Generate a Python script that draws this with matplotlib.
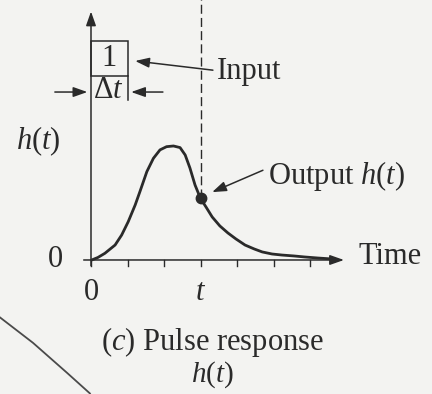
import numpy as np
import matplotlib
matplotlib.use("Agg")
import matplotlib.pyplot as plt
from matplotlib.patches import Rectangle

# pulse response h(t), time in tick units, amplitude normalised to the peak
t_vals = [0.02, 0.19, 0.38, 0.66, 0.84, 1.02, 1.21, 1.34, 1.53, 1.71, 1.89,
          2.07, 2.26, 2.44, 2.58, 2.71, 2.85, 3.0, 3.15, 3.32, 3.53, 3.75,
          3.97, 4.22, 4.47, 4.69, 4.96, 5.23, 5.56, 5.86, 6.22, 6.55]
h_vals = [0.0, 0.022, 0.058, 0.130, 0.217, 0.333, 0.478, 0.594, 0.768, 0.884,
          0.957, 0.985, 0.991, 0.977, 0.913, 0.800, 0.652, 0.535, 0.461, 0.374,
          0.296, 0.235, 0.183, 0.130, 0.096, 0.070, 0.052, 0.043, 0.035, 0.026,
          0.017, 0.01]
t_mark = 3.0
h_mark = 0.535
tick_pos = [0, 1, 2, 3, 4, 5, 6]
pulse_width = 1.0
pulse_top = 1.90
pulse_base = 1.60

# stray stroke from the neighbouring figure on the page
edge_x = [-2.49, -1.59, -0.66, -0.03]
edge_y = [-0.50, -0.72, -0.98, -1.16]

ink = "#2a2a2a"
plt.rcParams["font.family"] = "Liberation Serif"
plt.rcParams["mathtext.fontset"] = "custom"
plt.rcParams["mathtext.rm"] = "Liberation Serif"
plt.rcParams["mathtext.it"] = "Liberation Serif:italic"

fig = plt.figure(figsize=(4.32, 3.94), dpi=100)
fig.patch.set_facecolor("#f3f3f1")
ax = fig.add_axes([0, 0, 1, 1])
ax.set_facecolor("#f3f3f1")
ax.set_xlim(-2.493, 9.342)
ax.set_ylim(-1.165, 2.26)
ax.axis("off")

fs = 22
arrow = dict(arrowstyle="-|>,head_length=0.85,head_width=0.3", color=ink, lw=1.1,
             shrinkA=0, shrinkB=0)

# axes with arrowheads
ax.annotate("", xy=(0, 2.16), xytext=(0, -0.05), arrowprops=arrow)
ax.annotate("", xy=(6.93, 0), xytext=(-0.2, 0), arrowprops=arrow)
for tp in tick_pos:
    ax.plot([tp, tp], [0, -0.05], color=ink, lw=1.0)

# response curve, sample point and dashed marker
ax.plot(t_vals, h_vals, color=ink, lw=2.0, solid_capstyle="round",
        solid_joinstyle="round")
ax.plot([t_mark, t_mark], [h_mark, 2.3], color=ink, lw=1.0, dashes=(6.5, 3))
ax.plot(t_mark, h_mark, "o", color=ink, ms=7.5)

# input pulse of height 1 and width dt
ax.add_patch(Rectangle((0, pulse_base), pulse_width, pulse_top - pulse_base,
                       fill=False, edgecolor=ink, lw=1.1))
ax.plot([pulse_width, pulse_width], [pulse_base, 1.39], color=ink, lw=1.1)
ax.text(0.5, 1.75, "1", ha="center", va="center", fontsize=fs, color=ink)
ax.text(0.48, 1.47, r"$\Delta t$", ha="center", va="center", fontsize=fs, color=ink)
ax.annotate("", xy=(-0.1, 1.46), xytext=(-0.99, 1.46), arrowprops=arrow)
ax.annotate("", xy=(1.1, 1.46), xytext=(1.97, 1.46), arrowprops=arrow)

ax.annotate("", xy=(1.21, 1.73), xytext=(3.34, 1.65), arrowprops=arrow)
ax.text(3.45, 1.64, "Input", ha="left", va="center", fontsize=fs, color=ink)
ax.annotate("", xy=(3.32, 0.59), xytext=(4.71, 0.78), arrowprops=arrow)
ax.text(4.85, 0.73, r"Output $h(t)$", ha="left", va="center", fontsize=fs, color=ink)

# axis labels
ax.text(-1.44, 1.03, r"$h(t)$", ha="center", va="center", fontsize=fs, color=ink)
ax.text(-0.97, 0.0, "0", ha="center", va="center", fontsize=fs, color=ink)
ax.text(0.0, -0.28, "0", ha="center", va="center", fontsize=fs, color=ink)
ax.text(t_mark, -0.28, r"$t$", ha="center", va="center", fontsize=fs, color=ink)
ax.text(7.32, 0.03, "Time", ha="left", va="center", fontsize=fs, color=ink)

# caption
ax.text(3.32, -0.71, r"($c$) Pulse response", ha="center", va="center",
        fontsize=fs, color=ink)
ax.text(3.32, -1.0, r"$h(t)$", ha="center", va="center", fontsize=21, color=ink)

ax.plot(edge_x, edge_y, color="#4a4a4a", lw=1.3)

fig.savefig("out.png", dpi=100, facecolor=fig.get_facecolor())
